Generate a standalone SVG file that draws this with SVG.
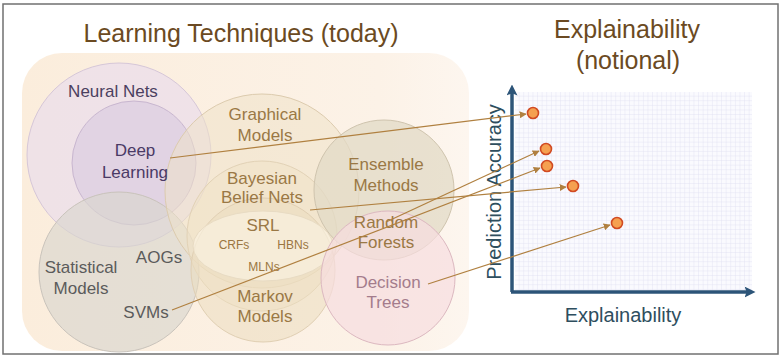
<svg xmlns="http://www.w3.org/2000/svg" width="782" height="357" viewBox="0 0 782 357">
<defs>
<linearGradient id="bg" x1="0" y1="0" x2="1" y2="0">
<stop offset="0" stop-color="#fbeddc"/>
<stop offset="0.8" stop-color="#fcf2e7"/>
<stop offset="1" stop-color="#fdf6ef"/>
</linearGradient>
<pattern id="grid" width="4.6" height="4.6" patternUnits="userSpaceOnUse" x="515" y="92">
<path d="M4.6 0V4.6M0 4.6H4.6" fill="none" stroke="#dedef0" stroke-width="0.8"/>
</pattern>
<marker id="ah" viewBox="0 0 10 10" refX="9" refY="5" markerWidth="7" markerHeight="7" orient="auto" markerUnits="userSpaceOnUse">
<path d="M0 0L10 5L0 10z" fill="#b08040"/>
</marker>
<marker id="ax" viewBox="0 0 10 10" refX="5" refY="5" markerWidth="11" markerHeight="11" orient="auto" markerUnits="userSpaceOnUse">
<path d="M0 0L10 5L0 10L2 5z" fill="#2c5478"/>
</marker>
</defs>
<style>
text{font-family:"Liberation Sans",Arial,sans-serif;text-anchor:middle}
.t{font-size:25px;fill:#6b4a22}
.l{font-size:17px}
.s{font-size:12px;fill:#9a7640}
.br{fill:#9a7845}
.pu{fill:#4b3f60}
.gy{fill:#5b5b5b}
.pk{fill:#a47c8c}
.conn{fill:none;stroke:#b08040;stroke-width:1.2;marker-end:url(#ah)}
.dot{fill:#f5a050;stroke:#d14a22;stroke-width:1.6}
.axl{fill:#2e4e5e;font-size:20px}
</style>
<rect x="3" y="4" width="775" height="350" fill="#fff" stroke="#707070" stroke-width="1.5"/>
<rect x="22" y="53" width="447" height="298" rx="40" fill="url(#bg)"/>
<text class="t" x="241" y="42">Learning Techniques (today)</text>
<text class="t" x="627" y="38">Explainability</text>
<text class="t" x="628" y="69">(notional)</text>

<g id="neural-nets"><circle cx="119" cy="155" r="92" fill="#ecdfea" fill-opacity="0.8" stroke="#d6c7d8"/></g>
<g id="deep-learning"><circle cx="134" cy="163" r="62" fill="#dccde2" fill-opacity="0.75" stroke="#c8b6cf"/></g>
<g id="statistical-models"><circle cx="119" cy="272" r="80" fill="#d9d6ce" fill-opacity="0.65" stroke="#c9c3bb"/></g>
<g id="graphical-models"><circle cx="262" cy="191" r="97" fill="#efe2c9" fill-opacity="0.55" stroke="#dccbae"/></g>
<g id="bayesian-belief-nets"><circle cx="262" cy="236" r="75" fill="#efe1c6" fill-opacity="0.5" stroke="#e2d2b6"/></g>
<g id="markov-models"><circle cx="263" cy="270" r="72" fill="#ebdcc0" fill-opacity="0.55" stroke="#e0cfb3"/></g>
<g id="srl"><ellipse cx="263" cy="246" rx="70" ry="35" fill="#fbf2e2" fill-opacity="0.65" stroke="#e8dbc3"/></g>
<g id="ensemble-methods"><circle cx="384" cy="190" r="70" fill="#e2dac6" fill-opacity="0.75" stroke="#cfc4ae"/></g>
<g id="decision-trees"><circle cx="388" cy="278" r="67" fill="#f6dde0" fill-opacity="0.7" stroke="#dcb8c0"/></g>

<text class="l pu" x="113" y="97">Neural Nets</text>
<text class="l" x="135" y="156" fill="#4a3a66">Deep</text>
<text class="l" x="135" y="178" fill="#4a3a66">Learning</text>
<text class="l br" x="265" y="120">Graphical</text>
<text class="l br" x="265" y="141">Models</text>
<text class="l br" x="262" y="184">Bayesian</text>
<text class="l br" x="262" y="203">Belief Nets</text>
<text class="l br" x="263" y="231">SRL</text>
<text class="s" x="234" y="249">CRFs</text>
<text class="s" x="293" y="249">HBNs</text>
<text class="s" x="264" y="271">MLNs</text>
<text class="l br" x="265" y="302">Markov</text>
<text class="l br" x="265" y="322">Models</text>
<text class="l br" x="386" y="170">Ensemble</text>
<text class="l br" x="386" y="191">Methods</text>
<text class="l br" x="386" y="228">Random</text>
<text class="l br" x="386" y="248">Forests</text>
<text class="l pk" x="388" y="288">Decision</text>
<text class="l pk" x="388" y="308">Trees</text>
<text class="l gy" x="81" y="273">Statistical</text>
<text class="l gy" x="81" y="294">Models</text>
<text class="l gy" x="159" y="263">AOGs</text>
<text class="l gy" x="146" y="318">SVMs</text>

<g id="chart">
<rect x="515" y="92" width="237" height="198" fill="#fafafe"/>
<rect x="515" y="92" width="237" height="198" fill="url(#grid)"/>
<line x1="512" y1="292" x2="512" y2="90" stroke="#2c5478" stroke-width="3.5" marker-end="url(#ax)"/>
<line x1="511" y1="292" x2="750" y2="292" stroke="#2c5478" stroke-width="3.5" marker-end="url(#ax)"/>
<text class="axl" transform="translate(501,192) rotate(-90)">Prediction Accuracy</text>
<text class="axl" x="623" y="322">Explainability</text>
</g>

<g id="connectors">
<line class="conn" x1="170" y1="158" x2="526" y2="114"/>
<line class="conn" x1="386" y1="222" x2="539" y2="151"/>
<line class="conn" x1="172" y1="310" x2="540" y2="168"/>
<line class="conn" x1="310" y1="210" x2="566" y2="187"/>
<line class="conn" x1="428" y1="284" x2="610" y2="225"/>
</g>

<g id="points">
<circle class="dot" cx="533" cy="113" r="5.5"/>
<circle class="dot" cx="546" cy="149" r="5.5"/>
<circle class="dot" cx="547" cy="166" r="5.5"/>
<circle class="dot" cx="573" cy="186" r="5.5"/>
<circle class="dot" cx="617" cy="223" r="5.5"/>
</g>
</svg>
